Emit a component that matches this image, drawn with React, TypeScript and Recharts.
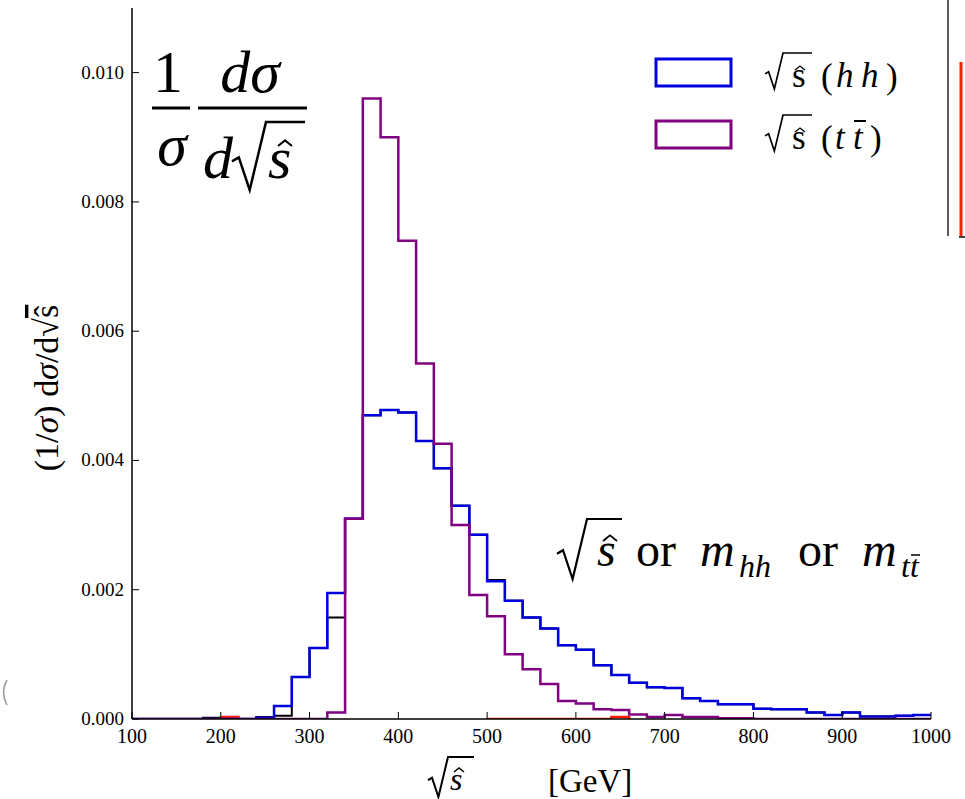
import { LineChart, Line, XAxis, YAxis } from "recharts";

const SERIF = "'Liberation Serif', 'DejaVu Serif', serif";
const BLUE = "#0000dd";
const PURPLE = "#800080";

// left edge of each 20 GeV bin
const BIN_START = [
  100, 120, 140, 160, 180, 200, 220, 240, 260, 280, 300, 320, 340, 360, 380,
  400, 420, 440, 460, 480, 500, 520, 540, 560, 580, 600, 620, 640, 660, 680,
  700, 720, 740, 760, 780, 800, 820, 840, 860, 880, 900, 920, 940, 960, 980,
];

// sqrt(s) (h h)
const HH = [
  0, 0, 0, 0, 0, 0, 0, 0.00002, 0.0002, 0.00065, 0.0011, 0.00195, 0.0031, 0.0047, 0.00478,
  0.00474, 0.0043, 0.00388, 0.0033, 0.00285, 0.00213, 0.00183, 0.00157, 0.0014, 0.00114, 0.00107, 0.00083, 0.00068, 0.00056, 0.00049,
  0.00048, 0.00032, 0.00028, 0.00023, 0.00023, 0.00016, 0.00015, 0.00015, 0.0001, 0.00006, 0.0001, 0.00004, 0.00004, 0.00005, 0.00006,
];

// sqrt(s) (t tbar)
const TT = [
  0, 0, 0, 0, 0, 0, 0, 0, 0, 0, 0, 0.0001, 0.0031, 0.0096, 0.009,
  0.0074, 0.0055, 0.00426, 0.003, 0.00192, 0.00159, 0.001, 0.00077, 0.00054, 0.00028, 0.00024, 0.00015, 0.00014, 0.00007, 0.00003,
  0.00006, 0.00003, 0.00003, 0.00001, 0.00001, 0, 0, 0, 0, 0, 0, 0, 0, 0, 0,
];

// hidden black histogram, peeks out under the blue one
const OTHER = [
  0, 0, 0, 0, 0.00002, 0, 0, 0.00003, 0.00005, 0.00065, 0.0011, 0.00157, 0.0031, 0.0047, 0.00478,
  0.00474, 0.0043, 0.00388, 0.0033, 0.00285, 0.00215, 0.00183, 0.00157, 0.0014, 0.00114, 0.00107, 0.00083, 0.00068, 0.00056, 0.00049,
  0.00048, 0.00032, 0.00028, 0.00023, 0.00023, 0.00016, 0.00015, 0.00015, 0.0001, 0.00006, 0.0001, 0.00004, 0.00004, 0.00005, 0.00006,
];

// red histogram, only visible near the baseline
const RED = [
  null, null, null, null, null, 0.00003, 0, null, null, null, null, null, null, null, null,
  null, null, null, null, null, 0, 0, 0, 0, 0, 0, 0, 0.00003, 0, null,
  null, null, null, null, null, null, null, null, null, null, null, null, null, null, null,
];

const X_TICKS = [100, 200, 300, 400, 500, 600, 700, 800, 900, 1000];
const Y_TICKS = [0, 0.002, 0.004, 0.006, 0.008, 0.01];

const rows: any[] = BIN_START.map((x, i) => ({ x, hh: HH[i], tt: TT[i], oth: OTHER[i], red: RED[i] }));
rows.push({
  x: 1000,
  hh: HH[HH.length - 1],
  tt: TT[TT.length - 1],
  oth: OTHER[OTHER.length - 1],
  red: null,
});

const TICK = 7;

function BottomTick({ x, y, payload }: any) {
  return (
    <g>
      <line x1={x} x2={x} y1={y} y2={y - TICK} stroke="#000" strokeWidth={1} />
      <text x={x} y={y + 24} textAnchor="middle" style={{ fontFamily: SERIF }} fontSize={20} fill="#000">
        {payload.value}
      </text>
    </g>
  );
}

function TopTick({ x, y }: any) {
  return <line x1={x} x2={x} y1={y} y2={y + TICK} stroke="#000" strokeWidth={1} />;
}

function LeftTick({ x, y, payload }: any) {
  return (
    <g>
      <line x1={x} x2={x + TICK} y1={y} y2={y} stroke="#000" strokeWidth={1} />
      <text x={x - 8} y={y + 6} textAnchor="end" style={{ fontFamily: SERIF }} fontSize={19} fill="#000">
        {payload.value.toFixed(3)}
      </text>
    </g>
  );
}

function RightTick({ x, y }: any) {
  return <line x1={x} x2={x - TICK} y1={y} y2={y} stroke="#000" strokeWidth={1} />;
}

function radical(x: number, bottom: number, top: number, end: number) {
  const h = bottom - top;
  return `M${x},${bottom - h * 0.42} L${x + h * 0.1},${bottom - h * 0.48} L${x + h * 0.26},${bottom} L${x + h * 0.5},${top} L${end},${top}`;
}

function hat(cx: number, y: number, w: number) {
  return `M${cx - w},${y} L${cx},${y - w * 0.8} L${cx + w},${y}`;
}

function Overlay() {
  const up = { fontFamily: SERIF };
  const it = { fontFamily: SERIF, fontStyle: "italic" as const };
  return (
    <svg width={965} height={799} style={{ position: "absolute", left: 0, top: 0, pointerEvents: "none" }}>
      <g fill="#000">
        {/* big fraction */}
        <text x={168} y={92} fontSize={60} textAnchor="middle" style={up}>1</text>
        <line x1={152} x2={190} y1={108} y2={108} stroke="#000" strokeWidth={3} />
        <text x={172} y={165} fontSize={60} textAnchor="middle" style={it}>σ</text>
        <text x={250} y={92} fontSize={60} textAnchor="middle" style={it}>dσ</text>
        <line x1={198} x2={307} y1={108} y2={108} stroke="#000" strokeWidth={3} />
        <text x={203} y={178} fontSize={60} style={it}>d</text>
        <path d={radical(232, 190, 122, 305)} stroke="#000" strokeWidth={2.5} fill="none" />
        <text x={268} y={178} fontSize={60} style={it}>s</text>
        <path d={hat(285, 146, 7)} stroke="#000" strokeWidth={2} fill="none" />

        {/* legend */}
        <rect x={656} y={59} width={75} height={27} fill="none" stroke={BLUE} strokeWidth={3} />
        <path d={radical(765, 89, 53, 812)} stroke="#000" strokeWidth={1.7} fill="none" />
        <text x={792} y={87} fontSize={35} style={up}>s</text>
        <path d={hat(800, 70, 5)} stroke="#000" strokeWidth={1.3} fill="none" />
        <text x={821} y={88} fontSize={35} style={up}>(</text>
        <text x={836} y={87} fontSize={35} style={it}>h</text>
        <text x={861} y={87} fontSize={35} style={it}>h</text>
        <text x={886} y={88} fontSize={35} style={up}>)</text>

        <rect x={656} y={121} width={75} height={27} fill="none" stroke={PURPLE} strokeWidth={3} />
        <path d={radical(765, 151, 115, 812)} stroke="#000" strokeWidth={1.7} fill="none" />
        <text x={792} y={149} fontSize={35} style={up}>s</text>
        <path d={hat(800, 132, 5)} stroke="#000" strokeWidth={1.3} fill="none" />
        <text x={821} y={150} fontSize={35} style={up}>(</text>
        <text x={835} y={149} fontSize={35} style={it}>t</text>
        <text x={853} y={149} fontSize={35} style={it}>t</text>
        <line x1={854} x2={866} y1={121} y2={121} stroke="#000" strokeWidth={2} />
        <text x={870} y={150} fontSize={35} style={up}>)</text>

        {/* in-plot annotation */}
        <path d={radical(557, 579, 519, 622)} stroke="#000" strokeWidth={2.2} fill="none" />
        <text x={597} y={566} fontSize={48} style={it}>s</text>
        <path d={hat(610, 541, 7)} stroke="#000" strokeWidth={1.8} fill="none" />
        <text x={636} y={566} fontSize={48} style={up}>or</text>
        <text x={700} y={566} fontSize={48} style={it}>m</text>
        <text x={739} y={577} fontSize={32} style={it}>hh</text>
        <text x={798} y={566} fontSize={48} style={up}>or</text>
        <text x={862} y={566} fontSize={48} style={it}>m</text>
        <text x={901} y={577} fontSize={32} style={it}>tt</text>
        <line x1={911} x2={920} y1={555} y2={555} stroke="#000" strokeWidth={1.5} />

        {/* x label */}
        <path d={radical(428, 797, 757, 474)} stroke="#000" strokeWidth={2} fill="none" />
        <text x={450} y={790} fontSize={32} style={it}>s</text>
        <path d={hat(459, 772, 5)} stroke="#000" strokeWidth={1.5} fill="none" />
        <text x={548} y={792} fontSize={33} style={up}>[GeV]</text>

        {/* y label */}
        <text transform="translate(58,388) rotate(-90)" textAnchor="middle" fontSize={34} style={up}>
          (1/<tspan style={it}>σ</tspan>) d<tspan style={it}>σ</tspan>/d√<tspan style={{ textDecoration: "overline" }}>{"\u015D"}</tspan>
        </text>
      </g>

      {/* cut-off edge of the neighbouring panel */}
      <line x1={948} x2={948} y1={0} y2={236} stroke="#222" strokeWidth={1.5} />
      <line x1={961} x2={961} y1={62} y2={236} stroke="#ff2000" strokeWidth={3} />
      <line x1={959} x2={965} y1={237} y2={237} stroke="#000" strokeWidth={1.5} />
      <path d="M7,680 Q0,692 7,705" stroke="#999" strokeWidth={1.5} fill="none" />
    </svg>
  );
}

export default function App() {
  return (
    <div style={{ position: "absolute", left: 0, top: 0, width: 965, height: 799, background: "#fff" }}>
      <LineChart width={965} height={799} data={rows} margin={{ top: 8, right: 34, bottom: 50, left: 72 }}>
        <XAxis
          xAxisId="b"
          dataKey="x"
          type="number"
          domain={[100, 1000]}
          ticks={X_TICKS}
          allowDataOverflow
          height={30}
          tickSize={0}
          tickMargin={0}
          tickLine={false}
          tick={<BottomTick />}
          axisLine={{ stroke: "#000", strokeWidth: 1.5 }}
        />
        <XAxis
          xAxisId="t"
          orientation="top"
          dataKey="x"
          type="number"
          domain={[100, 1000]}
          ticks={X_TICKS}
          allowDataOverflow
          height={0}
          tickSize={0}
          tickMargin={0}
          tickLine={false}
          tick={<TopTick />}
          axisLine={{ stroke: "#000", strokeWidth: 1.5 }}
        />
        <YAxis
          yAxisId="l"
          type="number"
          domain={[0, 0.011]}
          ticks={Y_TICKS}
          allowDataOverflow
          width={60}
          tickSize={0}
          tickMargin={0}
          tickLine={false}
          tick={<LeftTick />}
          axisLine={{ stroke: "#000", strokeWidth: 1.5 }}
        />
        <YAxis
          yAxisId="r"
          orientation="right"
          type="number"
          domain={[0, 0.011]}
          ticks={Y_TICKS}
          allowDataOverflow
          width={0}
          tickSize={0}
          tickMargin={0}
          tickLine={false}
          tick={<RightTick />}
          axisLine={{ stroke: "#000", strokeWidth: 1.5 }}
        />
        <Line xAxisId="b" yAxisId="l" dataKey="oth" type="stepAfter" stroke="#000" strokeWidth={2} dot={false} activeDot={false} isAnimationActive={false} />
        <Line xAxisId="b" yAxisId="l" dataKey="red" type="stepAfter" stroke="#ff1a00" strokeWidth={2.5} dot={false} activeDot={false} isAnimationActive={false} />
        <Line xAxisId="b" yAxisId="l" dataKey="hh" type="stepAfter" stroke={BLUE} strokeWidth={2.5} dot={false} activeDot={false} isAnimationActive={false} />
        <Line xAxisId="b" yAxisId="l" dataKey="tt" type="stepAfter" stroke={PURPLE} strokeWidth={2.5} dot={false} activeDot={false} isAnimationActive={false} />
      </LineChart>
      <Overlay />
    </div>
  );
}
